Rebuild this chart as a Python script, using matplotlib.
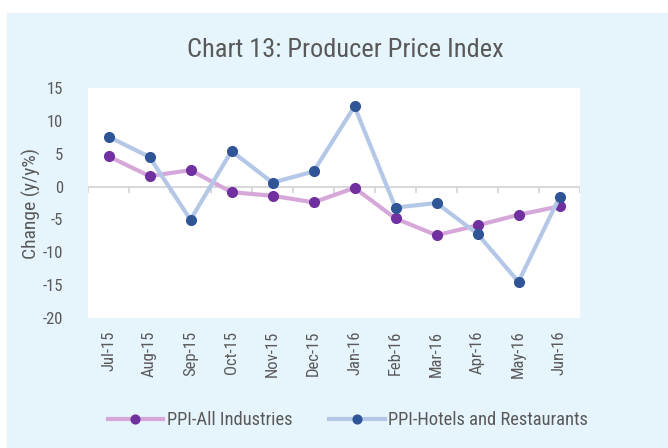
import matplotlib
matplotlib.use('Agg')
import matplotlib.pyplot as plt
from matplotlib.patches import Rectangle
from matplotlib import font_manager
import numpy as np

months = ['Jul-15', 'Aug-15', 'Sep-15', 'Oct-15', 'Nov-15', 'Dec-15',
          'Jan-16', 'Feb-16', 'Mar-16', 'Apr-16', 'May-16', 'Jun-16']
all_industries = [4.6, 1.6, 2.5, -0.85, -1.4, -2.4, -0.2, -4.85, -7.4, -5.9, -4.3, -3.0]
hotels = [7.6, 4.5, -5.05, 5.4, 0.6, 2.3, 12.2, -3.2, -2.5, -7.2, -14.5, -1.6]

# pick a narrow face if one is there
names = set(f.name for f in font_manager.fontManager.ttflist)
fams = [n for n in ['Roboto Condensed', 'Liberation Sans Narrow', 'DejaVu Sans Condensed', 'Roboto']
        if n in names] + ['DejaVu Sans']
plt.rcParams['font.family'] = fams
plt.rcParams['axes.unicode_minus'] = False

text_col = '#595959'
bg = '#E6F4FC'

fig = plt.figure(figsize=(6.68, 4.48), dpi=100)
fig.patch.set_facecolor('white')
fig.patches.append(Rectangle((7 / 668, 0), 1, (448 - 13) / 448, transform=fig.transFigure,
                             facecolor=bg, edgecolor='none', zorder=-10))

ax = fig.add_axes([88 / 668, 1 - 318 / 448, 492 / 668, 230 / 448])
ax.set_facecolor('white')
x = np.arange(len(months))

ax.plot(x, all_industries, color='#D6A8DA', lw=3, marker='o', ms=7,
        mfc='#7030A0', mec='#7030A0', label='PPI-All Industries', zorder=3)
ax.plot(x, hotels, color='#B4C7E7', lw=3, marker='o', ms=7,
        mfc='#2F5597', mec='#2F5597', label='PPI-Hotels and Restaurants', zorder=3)

ax.set_xlim(-0.5, len(months) - 0.5)
ax.set_ylim(-20, 15)
ax.set_yticks(np.arange(-20, 16, 5))
for s in ax.spines.values():
    s.set_visible(False)

# zero line with category tick marks
ax.axhline(0, color='#D9D9D9', lw=1.5, zorder=1)
for b in np.arange(-0.5, len(months), 1.0):
    ax.plot([b, b], [0, -0.8], color='#D9D9D9', lw=1.5, zorder=1)

ax.set_xticks(x)
ax.set_xticklabels(months, rotation=90, fontsize=12, color=text_col)
ax.tick_params(axis='x', length=0, pad=9)
ax.tick_params(axis='y', length=0, pad=18, labelsize=12, labelcolor=text_col)
ax.set_ylabel('Change (y/y%)', fontsize=14, color=text_col)
ax.yaxis.set_label_coords(-47 / 492, 0.5)

fig.text(345 / 668, 1 - 50 / 448, 'Chart 13: Producer Price Index', ha='center', va='center',
         fontsize=19, color=text_col)

leg = fig.legend(loc='center', bbox_to_anchor=(348 / 668, 1 - 420 / 448), ncol=2, frameon=False,
                 fontsize=13.3, handlelength=3.0, columnspacing=2.0, handletextpad=0.2,
                 markerscale=0.9)
for t in leg.get_texts():
    t.set_color(text_col)

fig.savefig('out.png', dpi=100, facecolor=fig.get_facecolor())
